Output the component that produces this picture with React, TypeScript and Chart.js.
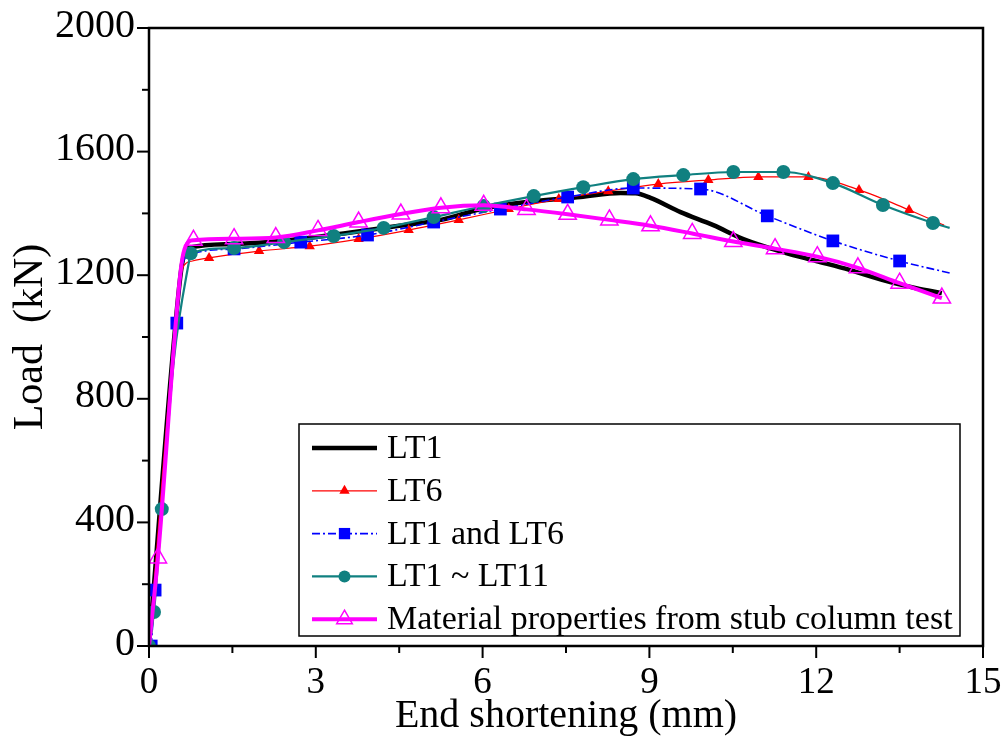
import React, { useEffect, useRef } from "react";
import { Chart, registerables } from "chart.js";

Chart.register(...registerables);

// ---------------- data ----------------
const seriesLabels = [
  "LT1",
  "LT6",
  "LT1 and LT6",
  "LT1 ~ LT11",
  "Material properties from stub column test",
];

// LT1 (no markers)
const lt1X = [0, 0.56, 0.63, 0.75, 1.5, 2.55, 3.5, 4.5, 5.25, 6.0, 6.86, 7.76, 8.48, 8.75, 9.02, 9.56, 10.15, 10.69, 11.4, 12.0, 12.6, 13.2, 13.8, 14.26];
const lt1Y = [0, 1190, 1265, 1290, 1301, 1314, 1335, 1360, 1379, 1415, 1438, 1453, 1466, 1465, 1450, 1404, 1362, 1317, 1275, 1246, 1217, 1184, 1158, 1142];
const lt1Marked = lt1X.map(() => 0);

// LT6
const lt6X = [0, 0.55, 0.63, 0.78, 1.08, 1.98, 2.89, 3.77, 4.67, 5.57, 6.47, 7.37, 8.26, 9.16, 10.06, 10.96, 11.86, 12.77, 13.67, 14.3];
const lt6Y = [0, 1170, 1232, 1246, 1256, 1278, 1294, 1317, 1346, 1379, 1414, 1447, 1472, 1495, 1508, 1518, 1518, 1476, 1411, 1362];
const lt6Marked = [0, 0, 0, 0, 1, 1, 1, 1, 1, 1, 1, 1, 1, 1, 1, 1, 1, 1, 1, 0];

// LT1 and LT6
const lt16X = [0.04, 0.11, 0.5, 0.6, 0.72, 1.53, 2.73, 3.93, 5.12, 6.32, 7.53, 8.71, 9.92, 11.12, 12.3, 13.5, 14.4];
const lt16Y = [0, 181, 1045, 1230, 1265, 1285, 1307, 1330, 1372, 1414, 1453, 1482, 1479, 1392, 1311, 1246, 1207];
const lt16Marked = [1, 1, 1, 0, 0, 1, 1, 1, 1, 1, 1, 1, 1, 1, 1, 1, 0];

// LT1 ~ LT11
const lt111X = [0, 0.09, 0.23, 0.45, 0.72, 0.75, 1.53, 2.43, 3.32, 4.22, 5.12, 6.02, 6.92, 7.81, 8.71, 9.61, 10.51, 11.41, 12.3, 13.2, 14.1, 14.4];
const lt111Y = [0, 110, 443, 930, 1245, 1271, 1288, 1307, 1327, 1353, 1388, 1424, 1456, 1485, 1511, 1524, 1534, 1534, 1498, 1427, 1369, 1353];
const lt111Marked = [1, 1, 1, 0, 0, 1, 1, 1, 1, 1, 1, 1, 1, 1, 1, 1, 1, 1, 1, 1, 1, 0];

// Material properties from stub column test
const stubX = [0, 0.16, 0.56, 0.64, 0.8, 1.53, 2.28, 3.04, 3.77, 4.53, 5.25, 6.02, 6.79, 7.53, 8.28, 9.02, 9.77, 10.51, 11.26, 12.02, 12.75, 13.5, 14.26];
const stubY = [0, 285, 1200, 1285, 1313, 1318, 1322, 1345, 1372, 1398, 1418, 1426, 1413, 1397, 1379, 1360, 1335, 1309, 1286, 1260, 1224, 1174, 1126];
const stubMarked = [0, 1, 0, 0, 1, 1, 1, 1, 1, 1, 1, 1, 1, 1, 1, 1, 1, 1, 1, 1, 1, 1, 1];

const xMax = 15;
const xMajorStep = 3;
const xMinorStep = 1.5;
const yMax = 2000;
const yMajorStep = 400;
const yMinorStep = 200;
const xTickLabels = ["0", "3", "6", "9", "12", "15"];
const yTickLabels = ["0", "400", "800", "1200", "1600", "2000"];
const xTitle = "End shortening (mm)";
const yTitle = "Load  (kN)";

// ---------------- styles ----------------
const FONT = "'Liberation Serif', 'Times New Roman', Times, serif";

type Style = {
  color: string;
  width: number;
  dash: number[];
  marker: string;
  r: number;
  fill: string;
  markerBorder: number;
  legendR: number;
  order: number;
};

const styles: Style[] = [
  { color: "#000000", width: 4.5, dash: [], marker: "none", r: 0, fill: "#000", markerBorder: 0, legendR: 0, order: 5 },
  { color: "#ff0000", width: 1.2, dash: [], marker: "triangle", r: 6, fill: "#ff0000", markerBorder: 0, legendR: 6, order: 4 },
  { color: "#0000ff", width: 1.6, dash: [8, 3, 2, 3], marker: "rect", r: 9, fill: "#0000ff", markerBorder: 0, legendR: 8, order: 3 },
  { color: "#108080", width: 2.2, dash: [], marker: "circle", r: 7, fill: "#108080", markerBorder: 0, legendR: 6, order: 2 },
  { color: "#ff00ff", width: 4, dash: [], marker: "triangle", r: 10, fill: "rgba(0,0,0,0)", markerBorder: 1.5, legendR: 9, order: 1 },
];

const seriesX = [lt1X, lt6X, lt16X, lt111X, stubX];
const seriesY = [lt1Y, lt6Y, lt16Y, lt111Y, stubY];
const seriesMarked = [lt1Marked, lt6Marked, lt16Marked, lt111Marked, stubMarked];

function drawMarker(ctx: CanvasRenderingContext2D, kind: string, x: number, y: number, r: number, fill: string, stroke: string, lw: number) {
  if (kind === "none" || r <= 0) return;
  ctx.beginPath();
  if (kind === "circle") {
    ctx.arc(x, y, r, 0, Math.PI * 2);
  } else if (kind === "rect") {
    const s = r * Math.SQRT1_2;
    ctx.rect(x - s, y - s, 2 * s, 2 * s);
  } else if (kind === "triangle") {
    ctx.moveTo(x, y - r);
    ctx.lineTo(x + r * 0.8660254, y + r / 2);
    ctx.lineTo(x - r * 0.8660254, y + r / 2);
    ctx.closePath();
  }
  ctx.fillStyle = fill;
  ctx.fill();
  if (lw > 0) {
    ctx.lineWidth = lw;
    ctx.strokeStyle = stroke;
    ctx.setLineDash([]);
    ctx.stroke();
  }
}

const decorPlugin = {
  id: "decor",
  afterDraw(chart: any) {
    const { ctx, chartArea: a, scales } = chart;
    const xs = scales.x;
    const ys = scales.y;
    ctx.save();
    ctx.setLineDash([]);
    // frame
    ctx.strokeStyle = "#000";
    ctx.lineWidth = 2.5;
    ctx.strokeRect(a.left, a.top, a.right - a.left, a.bottom - a.top);

    // ticks
    ctx.lineWidth = 2;
    const nx = Math.round(xMax / xMinorStep);
    for (let i = 0; i <= nx; i++) {
      const v = i * xMinorStep;
      const major = Math.abs(v / xMajorStep - Math.round(v / xMajorStep)) < 1e-6;
      const px = xs.getPixelForValue(v);
      ctx.beginPath();
      ctx.moveTo(px, a.bottom);
      ctx.lineTo(px, a.bottom + (major ? 12 : 7));
      ctx.stroke();
    }
    const ny = Math.round(yMax / yMinorStep);
    for (let i = 0; i <= ny; i++) {
      const v = i * yMinorStep;
      const major = v % yMajorStep === 0;
      const py = ys.getPixelForValue(v);
      ctx.beginPath();
      ctx.moveTo(a.left, py);
      ctx.lineTo(a.left - (major ? 12 : 7), py);
      ctx.stroke();
    }

    // tick labels
    ctx.fillStyle = "#000";
    ctx.textBaseline = "middle";
    ctx.font = `37px ${FONT}`;
    ctx.textAlign = "center";
    xTickLabels.forEach((t, i) => {
      ctx.fillText(t, xs.getPixelForValue(i * xMajorStep), a.bottom + 37);
    });
    ctx.font = `40px ${FONT}`;
    ctx.textAlign = "right";
    yTickLabels.forEach((t, i) => {
      ctx.fillText(t, a.left - 14, ys.getPixelForValue(i * yMajorStep) - 2);
    });

    // axis titles
    ctx.font = `40px ${FONT}`;
    ctx.textAlign = "center";
    ctx.textBaseline = "alphabetic";
    ctx.fillText(xTitle, (a.left + a.right) / 2, 727);

    ctx.save();
    ctx.translate(42, 337);
    ctx.rotate(-Math.PI / 2);
    ctx.font = `42px ${FONT}`;
    ctx.fillText(yTitle, 0, 0);
    ctx.restore();

    // legend
    const lx = 299;
    const ly = 424;
    const lw = 661;
    const lh = 212;
    ctx.fillStyle = "#fff";
    ctx.fillRect(lx, ly, lw, lh);
    ctx.strokeStyle = "#000";
    ctx.lineWidth = 1.5;
    ctx.strokeRect(lx, ly, lw, lh);
    ctx.font = `34px ${FONT}`;
    ctx.textAlign = "left";
    ctx.textBaseline = "middle";
    seriesLabels.forEach((label, i) => {
      const st = styles[i];
      const y = 448 + i * 42.8;
      ctx.beginPath();
      ctx.setLineDash(st.dash);
      ctx.strokeStyle = st.color;
      ctx.lineWidth = st.width;
      ctx.moveTo(312, y);
      ctx.lineTo(377, y);
      ctx.stroke();
      ctx.setLineDash([]);
      drawMarker(ctx, st.marker, 344.5, y, st.legendR, st.fill, st.color, st.markerBorder);
      ctx.fillStyle = "#000";
      ctx.fillText(label, 387, y + 1);
    });
    ctx.restore();
  },
};

export default function App() {
  const ref = useRef<HTMLCanvasElement | null>(null);

  useEffect(() => {
    document.body.style.margin = "0";
    const canvas = ref.current;
    if (!canvas) return;

    const datasets = seriesLabels.map((label, i) => {
      const st = styles[i];
      return {
        label,
        data: seriesX[i].map((x, j) => ({ x, y: seriesY[i][j] })),
        borderColor: st.color,
        borderWidth: st.width,
        borderDash: st.dash,
        backgroundColor: st.fill,
        pointStyle: st.marker === "none" ? "circle" : st.marker,
        pointRadius: seriesMarked[i].map((m) => (m ? st.r : 0)),
        pointHoverRadius: seriesMarked[i].map((m) => (m ? st.r : 0)),
        pointBackgroundColor: st.fill,
        pointBorderColor: st.color,
        pointBorderWidth: st.markerBorder,
        cubicInterpolationMode: "monotone" as const,
        fill: false,
        order: st.order,
      };
    });

    const chart = new Chart(canvas, {
      type: "line",
      data: { datasets },
      options: {
        responsive: false,
        animation: false,
        events: [],
        layout: { padding: { top: 28, right: 24, left: 0, bottom: 0 } },
        plugins: {
          legend: { display: false },
          tooltip: { enabled: false },
        },
        scales: {
          x: {
            type: "linear",
            min: 0,
            max: xMax,
            grid: { display: false, drawTicks: false },
            border: { display: false },
            ticks: { display: false, stepSize: xMajorStep },
            afterFit: (s: any) => {
              s.height = 103;
            },
          },
          y: {
            type: "linear",
            min: 0,
            max: yMax,
            grid: { display: false, drawTicks: false },
            border: { display: false },
            ticks: { display: false, stepSize: yMajorStep },
            afterFit: (s: any) => {
              s.width = 149;
            },
          },
        },
      },
      plugins: [decorPlugin],
    });

    return () => chart.destroy();
  }, []);

  return (
    <div style={{ width: 1007, height: 749 }}>
      <canvas ref={ref} width={1007} height={749} style={{ display: "block", width: 1007, height: 749 }} />
    </div>
  );
}
